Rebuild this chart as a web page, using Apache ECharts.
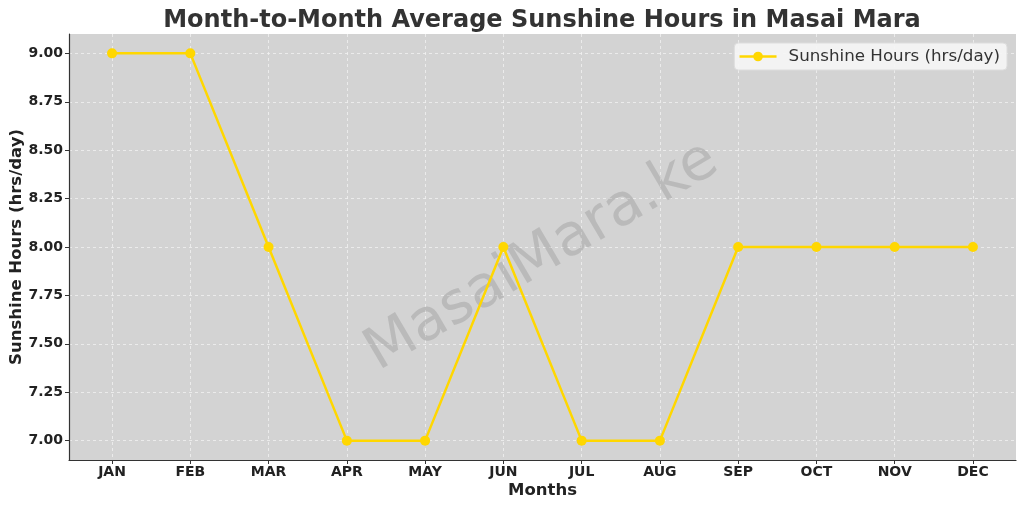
<!DOCTYPE html>
<html>
<head>
<meta charset="utf-8">
<script src="https://cdn.jsdelivr.net/npm/echarts@6/dist/echarts.min.js"></script>
<style>
  html, body { margin: 0; padding: 0; background: #fff; }
  #chart { width: 1024px; height: 508px; }
</style>
</head>
<body>
<div id="chart"></div>
<script>
var months = ['JAN', 'FEB', 'MAR', 'APR', 'MAY', 'JUN', 'JUL', 'AUG', 'SEP', 'OCT', 'NOV', 'DEC'];
var sunshine = [9, 9, 8, 7, 7, 8, 7, 7, 8, 8, 8, 8];
var yTicks = [7.00, 7.25, 7.50, 7.75, 8.00, 8.25, 8.50, 8.75, 9.00];

var chart = echarts.init(document.getElementById('chart'));
var font = 'DejaVu Sans';
var monthIdx = months.map(function (m, i) { return i; });

var option = {
  animation: false,
  textStyle: { fontFamily: font },
  title: {
    text: 'Month-to-Month Average Sunshine Hours in Masai Mara',
    left: 537,
    textAlign: 'center',
    top: 4,
    textStyle: { fontSize: 24, fontWeight: 'bold', color: '#333', fontFamily: font }
  },
  legend: {
    right: 17,
    top: 43,
    backgroundColor: 'rgba(245,245,245,0.92)',
    borderColor: '#ddd',
    borderWidth: 1,
    borderRadius: 4,
    padding: [5, 7, 5, 4],
    itemWidth: 37,
    itemHeight: 12,
    lineStyle: { width: 2.5 },
    textStyle: { fontSize: 16.7, color: '#333', fontFamily: font, padding: [0, 0, 0, 7] }
  },
  grid: {
    left: 69, right: 8, top: 34, bottom: 48,
    outerBoundsMode: 'none', containLabel: false,
    show: true, backgroundColor: '#d3d3d3', borderWidth: 0
  },
  graphic: [{
    type: 'text',
    x: 542, y: 257,
    rotation: 30.5 * Math.PI / 180,
    z: 1,
    style: {
      text: 'MasaiMara.ke',
      x: 0, y: 0,
      align: 'center',
      verticalAlign: 'middle',
      font: '58px "DejaVu Sans"',
      fill: 'rgba(128,128,128,0.3)'
    }
  }],
  xAxis: {
    type: 'value',
    min: -0.55,
    max: 11.55,
    name: 'Months',
    nameLocation: 'middle',
    nameGap: 22,
    nameMoveOverlap: false,
    nameTextStyle: { fontSize: 16.5, fontWeight: 'bold', color: '#222' },
    axisLine: { show: true, onZero: false, lineStyle: { color: '#333', width: 1.2 } },
    axisTick: { show: true, customValues: monthIdx, length: 4, lineStyle: { color: '#333' } },
    axisLabel: {
      customValues: monthIdx,
      fontSize: 14, fontWeight: 'bold', color: '#222', margin: 5,
      formatter: function (v) { return months[Math.round(v)]; }
    },
    splitLine: { show: true, lineStyle: { color: '#f2f2f2', type: [3, 3], width: 0.8 } }
  },
  yAxis: {
    type: 'value',
    min: 6.9,
    max: 9.1,
    name: 'Sunshine Hours (hrs/day)',
    nameLocation: 'middle',
    nameGap: 44,
    nameMoveOverlap: false,
    nameTextStyle: { fontSize: 16.5, fontWeight: 'bold', color: '#222' },
    axisLine: { show: true, onZero: false, lineStyle: { color: '#333', width: 1.2 } },
    axisTick: { show: true, customValues: yTicks, length: 4, lineStyle: { color: '#333' } },
    axisLabel: {
      customValues: yTicks,
      fontSize: 14, fontWeight: 'bold', color: '#222', margin: 6,
      formatter: function (v) { return v.toFixed(2); }
    },
    splitLine: { show: true, lineStyle: { color: '#f2f2f2', type: [3, 3], width: 0.8 } }
  },
  series: [{
    name: 'Sunshine Hours (hrs/day)',
    type: 'line',
    z: 5,
    data: sunshine.map(function (v, i) { return [i, v]; }),
    symbol: 'circle',
    symbolSize: 10,
    lineStyle: { color: '#FFD700', width: 2.5 },
    itemStyle: { color: '#FFD700' }
  }]
};

chart.setOption(option);
</script>
</body>
</html>
